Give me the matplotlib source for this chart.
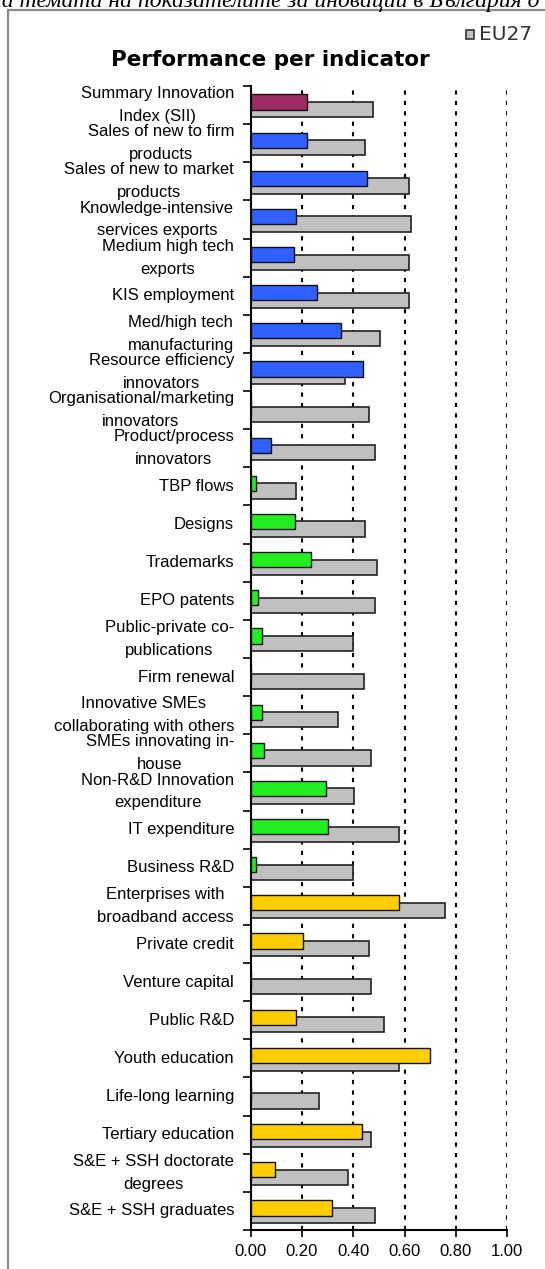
import matplotlib
matplotlib.use('Agg')
import matplotlib.pyplot as plt
from matplotlib.patches import Rectangle
import numpy as np

# categories, top to bottom
labels = ["Summary Innovation\nIndex (SII)", "Sales of new to firm\nproducts",
          "Sales of new to market\nproducts", "Knowledge-intensive\nservices exports",
          "Medium high tech\nexports", "KIS employment", "Med/high tech\nmanufacturing",
          "Resource efficiency\ninnovators", "Organisational/marketing\ninnovators",
          "Product/process\ninnovators", "TBP flows", "Designs", "Trademarks",
          "EPO patents", "Public-private co-\npublications", "Firm renewal",
          "Innovative SMEs\ncollaborating with others", "SMEs innovating in-\nhouse",
          "Non-R&D Innovation\nexpenditure", "IT expenditure", "Business R&D",
          "Enterprises with\nbroadband access", "Private credit", "Venture capital",
          "Public R&D", "Youth education", "Life-long learning", "Tertiary education",
          "S&E + SSH doctorate\ndegrees", "S&E + SSH graduates"]

# group of each indicator (decides the colour of the country bar)
groups = ["sii"] + ["outputs"] * 9 + ["firms"] * 11 + ["enablers"] * 9

country = [0.221, 0.221, 0.455, 0.175, 0.170, 0.258, 0.353, 0.439, 0.0, 0.081,
           0.021, 0.171, 0.235, 0.030, 0.044, 0.0, 0.044, 0.052, 0.295, 0.303,
           0.021, 0.578, 0.203, 0.0, 0.175, 0.697, 0.0, 0.434, 0.094, 0.317]
eu27 = [0.475, 0.447, 0.616, 0.623, 0.616, 0.616, 0.505, 0.369, 0.462, 0.484,
        0.175, 0.447, 0.491, 0.484, 0.397, 0.440, 0.339, 0.468, 0.403, 0.577,
        0.397, 0.756, 0.462, 0.468, 0.519, 0.577, 0.266, 0.468, 0.381, 0.484]
xticks = [0.0, 0.2, 0.4, 0.6, 0.8, 1.0]

group_colors = {"sii": "#9B2D62", "outputs": "#3060FF",
                "firms": "#22EE22", "enablers": "#FFCC00"}

plt.rcParams['font.family'] = ['Liberation Sans', 'DejaVu Sans']

W, H = 545, 1269
fig = plt.figure(figsize=(W / 100, H / 100), dpi=100)

# frame around the chart
fig.patches.append(Rectangle((8 / W, -0.1), 1.2, 1 - 10 / H + 0.1, transform=fig.transFigure,
                             fill=False, edgecolor='#8a8a8a', lw=1.6))

# cropped caption line above the chart
fig.text(-10 / W, 1 - 7 / H, "на темата на показателите за иновации в България о",
         family='Liberation Serif', style='italic', fontsize=17, va='baseline', ha='left')

ax = fig.add_axes([250.7 / W, 1 - 1230 / H, (507.3 - 250.7) / W, (1230 - 86) / H])

y = np.arange(len(labels))
cols = [group_colors[g] for g in groups]
ax.barh(y + 0.12, eu27, height=0.4, color='#C0C0C0', edgecolor='#222222', lw=1.2, zorder=2)
ax.barh(y - 0.08, country, height=0.4, color=cols, edgecolor='#111111', lw=1.0, zorder=3)

ax.set_xlim(0, 1)
ax.set_ylim(len(labels) - 0.5, -0.5)
ax.set_xticks(xticks, labels=[f"{v:.2f}" for v in xticks])
ax.set_yticks(np.arange(-0.5, len(labels), 1), labels=[])
ax.set_yticks(y, labels=labels, minor=True)
ax.tick_params(axis='y', which='major', length=6, width=1.2, direction='out')
ax.tick_params(axis='y', which='minor', length=0, pad=12, labelsize=12)
for t in ax.get_yticklabels(minor=True):
    t.set_multialignment('center')
    t.set_verticalalignment('center')
    t.set_linespacing(1.65)
ax.tick_params(axis='x', length=5, width=1.2, pad=5, labelsize=12)

ax.grid(axis='x', color='black', linestyle=(0, (2, 3)), lw=1.5)
ax.set_axisbelow(True)
for s in ['top', 'right']:
    ax.spines[s].set_visible(False)
for s in ['left', 'bottom']:
    ax.spines[s].set_linewidth(1.5)

fig.text(270 / W, 1 - 60 / H, "Performance per indicator", family='DejaVu Sans',
         fontweight='bold', fontsize=15.5, ha='center', va='center')

# legend entry
fig.patches.append(Rectangle((466 / W, 1 - 39 / H), 8 / W, 9 / H, transform=fig.transFigure,
                             facecolor='#C0C0C0', edgecolor='#333333', lw=1.2))
fig.text(479 / W, 1 - 35 / H, "EU27", family='DejaVu Sans', fontsize=14.5,
         color='#333333', ha='left', va='center')

fig.savefig('out.png', dpi=100)
